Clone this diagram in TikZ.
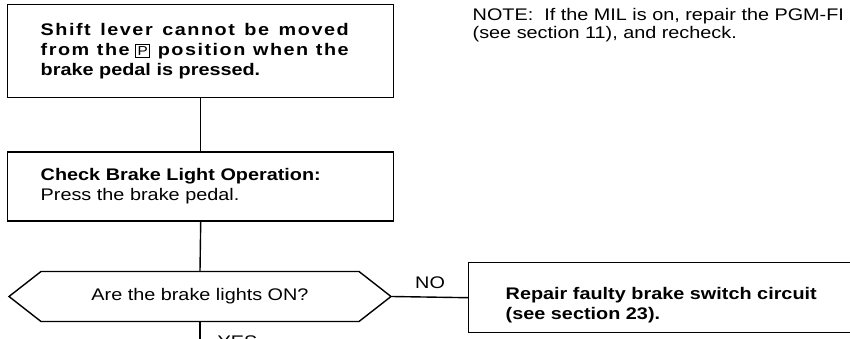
\documentclass[tikz,border=0pt]{standalone}
\usepackage{fontspec}
\setmainfont{Liberation Sans}[FakeStretch=1.18]
\usetikzlibrary{positioning, shapes.symbols}
\newcommand{\parkP}{{\setlength{\fboxsep}{1.5pt}\setlength{\fboxrule}{0.8pt}\fbox{\fontsize{13}{13}\selectfont\mdseries P}}}
\newcommand{\spreadline}[1]{\leavevmode\hbox to 308pt{\addfontfeature{LetterSpace=9}#1}}

\begin{document}
\begin{tikzpicture}[x=1pt, y=-1pt, line width=1.4pt,
  every node/.style={font=\fontsize{16.8}{20}\selectfont},
  stepbox/.style={rectangle, draw, text width=320pt, inner xsep=33pt, inner ysep=0pt, align=left},
  query/.style={signal, signal to=west and east, signal pointer angle=76, draw, inner sep=0pt},
]
\clip (0,0) rectangle (850,339);
\node[stepbox, minimum height=93pt, anchor=north west] (shift) at (7,4)
  {\bfseries\spreadline{Shift \hfil lever \hfil cannot \hfil be \hfil moved}\\
   \spreadline{from \hfil the \parkP{} \hfil position \hfil when \hfil the}\\
   brake pedal is pressed.};
\node[stepbox, minimum height=69pt, below=53pt of shift] (check)
  {\textbf{Check Brake Light Operation:}\\Press the brake pedal.};
\node[query, minimum width=382pt, minimum height=50pt] (lights) at (200,296.5) {Are the brake lights ON?};
\node[stepbox, text width=360pt, inner xsep=37pt, minimum height=70pt, anchor=north west] (repair) at (468,262)
  {\bfseries\rule{0pt}{28pt}Repair faulty brake switch circuit\\(see section 23).};
\node[anchor=north west, align=left, inner sep=0pt, font=\fontsize{16.8}{18}\selectfont] (note) at (472,8)
  {NOTE:\ \ If the MIL is on, repair the PGM-FI\\(see section 11), and recheck.};
\coordinate (yesend) at (200,345);
\draw (shift.south) -- (check.north);
\draw (check.south) -- (lights.north);
\draw (lights.east) -- node[above=4pt] (no) {NO} (repair.west);
\draw (lights.south) -- (yesend);
\node[anchor=north west, inner sep=0pt] (yes) at (217,335) {YES};
\end{tikzpicture}
\end{document}
